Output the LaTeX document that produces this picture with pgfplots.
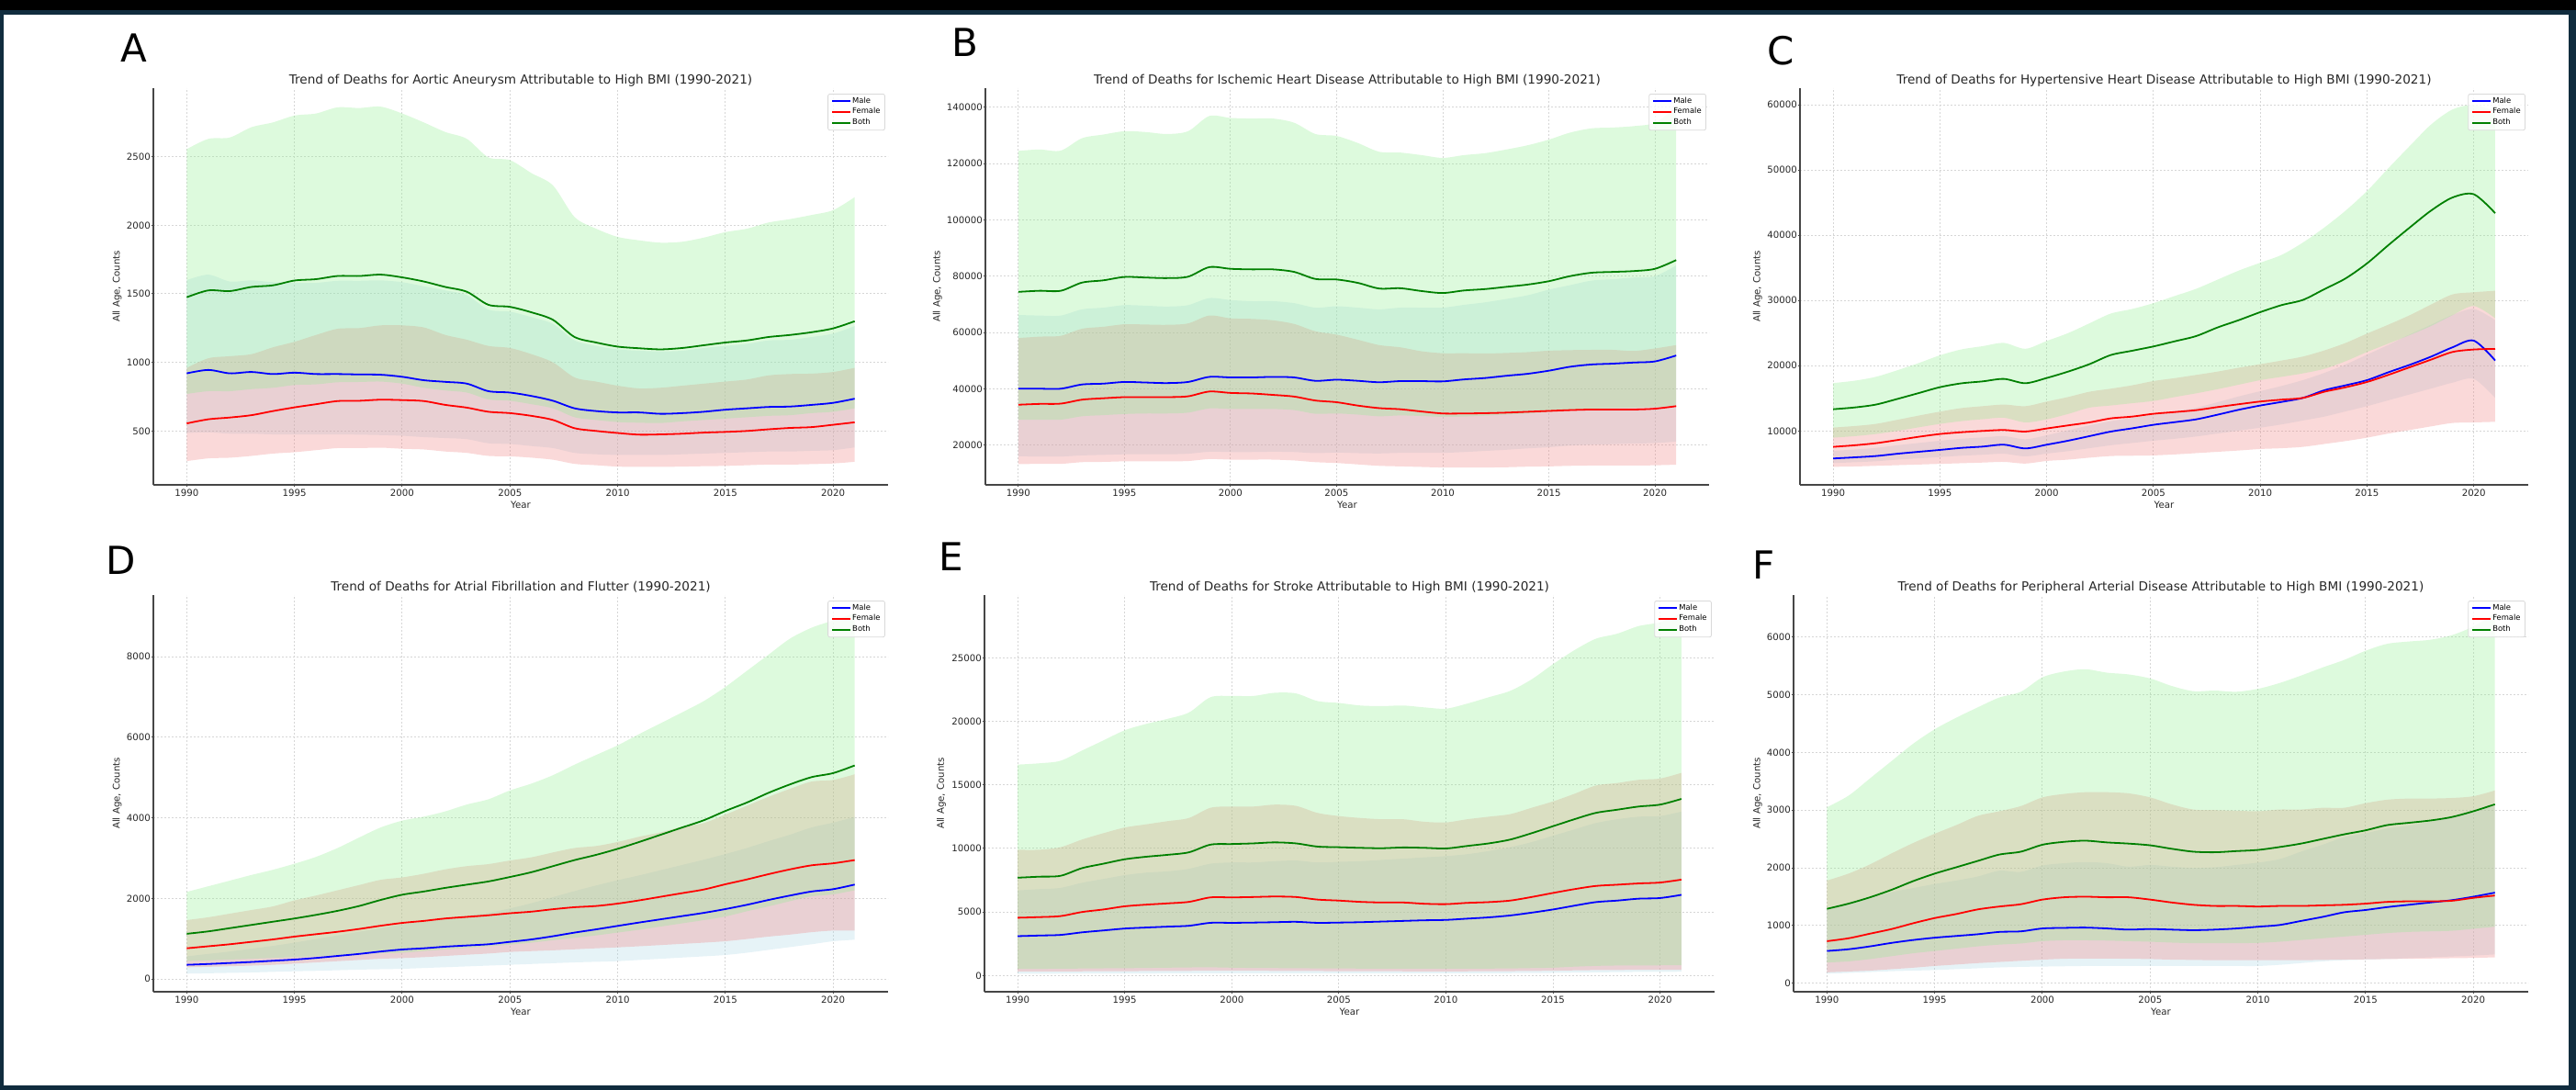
\documentclass[border=0pt]{standalone}
\usepackage{fontspec}
\setmainfont{DejaVu Sans}
\usepackage{pgfplots}
\usepackage{pgfplotstable}
\pgfplotsset{compat=1.18}
\usepgfplotslibrary{fillbetween}

\definecolor{frameteal}{RGB}{16,44,62}
\definecolor{mline}{RGB}{0,0,255}
\definecolor{fline}{RGB}{255,0,0}
\definecolor{bline}{RGB}{0,128,0}
\definecolor{mfill}{RGB}{173,216,230}
\definecolor{ffill}{RGB}{240,128,128}
\definecolor{bfill}{RGB}{144,238,144}
\definecolor{spine}{RGB}{70,70,70}
\definecolor{txt}{RGB}{38,38,38}

\newcommand\tickfont{\fontsize{5.1}{6.1}\selectfont}
\newcommand\titlefont{\fontsize{6.8}{8}\selectfont}
\newcommand\legfont{\fontsize{4.2}{5}\selectfont}

% columns: year, male low/mean/high, female low/mean/high, both low/mean/high
\pgfplotstableread{
yr ml m mu fl f fu bl b bu
1990 485 920 1600 280 555 960 770 1475 2555
1991 490 945 1640 300 585 1030 790 1525 2630
1992 480 920 1590 305 598 1045 790 1520 2640
1993 480 930 1598 318 615 1060 805 1550 2715
1994 475 915 1585 335 645 1110 815 1562 2750
1995 475 925 1580 345 672 1150 835 1597 2800
1996 475 915 1580 360 695 1200 840 1607 2815
1997 475 915 1595 375 718 1245 855 1630 2860
1998 473 912 1595 375 720 1250 857 1630 2855
1999 470 910 1598 378 728 1270 860 1640 2865
2000 465 895 1585 370 725 1270 845 1620 2815
2001 455 870 1555 365 718 1255 815 1590 2750
2002 448 858 1525 350 690 1200 795 1550 2680
2003 440 845 1490 340 670 1165 780 1515 2630
2004 410 790 1385 318 640 1120 730 1420 2495
2005 405 780 1370 315 630 1105 720 1405 2475
2006 390 755 1330 305 610 1060 695 1365 2380
2007 375 720 1280 290 580 1000 665 1310 2290
2008 340 665 1160 260 520 890 600 1185 2060
2009 330 645 1120 250 500 860 580 1145 1975
2010 325 635 1095 240 485 830 565 1115 1915
2011 325 635 1085 238 473 810 560 1103 1890
2012 325 625 1080 238 475 815 558 1095 1873
2013 330 630 1085 240 480 830 570 1105 1880
2014 335 640 1105 243 488 845 580 1125 1910
2015 340 655 1120 245 493 860 590 1145 1950
2016 345 665 1135 250 500 875 600 1160 1975
2017 350 675 1160 255 512 905 610 1185 2020
2018 350 678 1165 255 522 915 615 1200 2045
2019 355 690 1185 258 528 918 630 1220 2075
2020 360 705 1210 263 545 930 640 1248 2110
2021 380 735 1265 275 563 960 665 1300 2205
}\tA

\pgfplotstableread{
yr ml m mu fl f fu bl b bu
1990 16000 40000 66200 13200 34300 58000 29000 74400 124500
1991 15900 40000 66000 13300 34600 58500 29000 74800 125000
1992 15900 40000 66000 13300 34700 58800 29000 74800 124600
1993 16300 41500 68200 13900 36100 61300 30200 77700 129000
1994 16500 41800 68800 14000 36600 62000 30600 78500 130300
1995 16700 42400 69700 14200 37000 62900 31000 79700 131500
1996 16700 42200 69500 14200 37000 62800 31200 79500 131200
1997 16700 42000 69200 14200 37000 62700 31200 79300 130500
1998 16900 42400 69700 14300 37300 63200 31500 79800 131500
1999 17600 44200 72200 15000 39000 66000 33000 83200 136900
2000 17500 44000 71500 14800 38500 65000 32800 82600 136200
2001 17500 44000 71100 14800 38300 64800 32800 82400 136000
2002 17600 44200 71100 14800 37800 64300 32800 82400 136000
2003 17500 44000 70400 14500 37200 63000 32400 81500 134500
2004 17100 42800 68800 13900 35800 60400 31100 79000 130500
2005 17300 43200 69300 13600 35200 59200 31200 78800 129800
2006 17100 42800 68800 13100 34000 57400 30800 77600 127300
2007 17000 42300 68200 12600 33100 55500 30200 75600 124200
2008 17200 42700 68800 12400 32700 54700 30500 75700 123900
2009 17200 42700 68800 12200 31900 53300 30300 74700 123000
2010 17200 42600 68800 12000 31200 52600 30000 74000 122000
2011 17500 43300 69800 12000 31200 52600 30100 74900 123000
2012 17900 43800 70700 12000 31300 52500 30400 75400 123700
2013 18300 44600 71900 12100 31500 52700 30800 76200 125000
2014 18800 45300 73200 12300 31800 53000 31200 77000 126500
2015 19200 46400 75200 12400 32100 53500 31800 78200 128500
2016 19800 47800 76800 12600 32400 53700 32300 80000 131000
2017 20100 48600 78400 12700 32600 53800 32900 81200 132500
2018 20300 48900 78900 12700 32600 53800 33100 81500 132800
2019 20500 49300 79500 12700 32600 53400 33300 81800 133300
2020 20700 49700 80000 12800 32900 54300 33500 82600 134500
2021 21200 51800 83800 13000 33800 55500 34000 85700 140000
}\tB

\pgfplotstableread{
yr ml m mu fl f fu bl b bu
1990 5070 5775 6950 4500 7560 10520 8970 13330 17340
1991 5200 5950 7150 4550 7800 10750 9200 13600 17700
1992 5350 6150 7400 4650 8120 11080 9530 14040 18300
1993 5600 6500 7800 4750 8600 11700 10000 14900 19300
1994 5800 6800 8150 4850 9100 12350 10550 15800 20400
1995 6000 7090 8500 4950 9530 12960 11080 16710 21600
1996 6200 7400 8800 5050 9800 13500 11500 17300 22500
1997 6350 7600 9000 5150 10000 13800 11800 17600 23000
1998 6500 7890 9200 5250 10140 14040 12020 17980 23500
1999 6100 7320 8730 5000 9906 13800 11310 17320 22600
2000 6530 7890 9340 5400 10380 14500 11780 18120 23800
2001 6900 8500 10100 5600 10850 15200 12600 19100 25000
2002 7350 9200 10850 5900 11310 16010 13570 20240 26500
2003 7800 9900 11500 6150 11925 16480 13900 21640 28000
2004 8150 10400 12000 6200 12200 17000 14250 22300 28700
2005 8500 10940 12490 6250 12630 17650 14600 22960 29600
2006 8800 11350 13000 6400 12900 18100 15200 23750 30700
2007 9150 11780 13570 6600 13190 18590 15770 24550 31800
2008 9600 12490 14400 6800 13660 19100 16400 25870 33200
2009 10050 13250 15300 7000 14100 19700 17100 27000 34600
2010 10500 13900 16100 7230 14510 20240 17790 28220 35800
2011 11000 14450 16900 7350 14800 20800 18300 29300 37000
2012 11600 15070 17800 7560 15070 21410 18830 30100 38900
2013 12200 16240 18900 8000 16010 22350 19530 31740 41200
2014 13000 17000 20200 8450 16700 23500 20700 33400 43800
2015 13800 17790 21700 8970 17510 24930 22110 35700 46800
2016 14700 19000 23200 9600 18600 26300 23400 38500 50300
2017 15600 20140 24800 10140 19770 27750 24700 41200 53700
2018 16500 21400 26300 10700 20940 29390 26100 43800 57000
2019 17400 22820 27800 11220 22110 30940 27750 45800 59300
2020 17980 23850 28700 11310 22490 31270 29160 46300 60000
2021 15070 20800 27000 11400 22580 31500 27280 43400 59000
}\tC

\pgfplotstableread{
yr ml m mu fl f fu bl b bu
1990 130 350 560 289 760 1460 441 1120 2160
1991 140 370 620 300 810 1530 460 1180 2300
1992 150 395 680 315 860 1620 480 1260 2440
1993 160 420 750 330 920 1710 500 1340 2580
1994 175 450 820 350 980 1800 520 1420 2710
1995 190 480 900 380 1050 1950 540 1500 2860
1996 200 520 990 410 1110 2070 560 1590 3030
1997 215 570 1080 440 1170 2200 590 1690 3250
1998 230 620 1170 470 1240 2330 615 1810 3510
1999 240 680 1260 500 1320 2460 635 1960 3760
2000 250 730 1350 517 1390 2520 650 2090 3930
2001 270 760 1420 540 1440 2610 690 2170 4030
2002 290 800 1500 570 1500 2720 730 2260 4160
2003 310 830 1570 600 1540 2800 770 2340 4330
2004 330 860 1640 630 1580 2850 810 2420 4460
2005 350 920 1750 669 1630 2940 850 2530 4680
2006 370 980 1880 690 1670 3020 900 2650 4850
2007 390 1060 2030 710 1730 3140 960 2800 5060
2008 410 1150 2180 735 1780 3250 1020 2950 5320
2009 425 1230 2320 760 1810 3300 1080 3080 5560
2010 441 1316 2450 783 1870 3400 1150 3230 5800
2011 470 1400 2570 810 1950 3530 1220 3400 6080
2012 500 1480 2700 840 2040 3640 1300 3580 6350
2013 530 1560 2830 870 2130 3780 1380 3760 6620
2014 560 1640 2960 900 2220 3870 1460 3940 6900
2015 593 1734 3100 935 2350 4080 1550 4170 7250
2016 650 1840 3250 990 2470 4300 1680 4380 7650
2017 720 1960 3420 1050 2600 4520 1800 4620 8050
2018 790 2070 3580 1100 2720 4720 1930 4830 8450
2019 860 2170 3760 1160 2820 4900 2050 5010 8720
2020 935 2228 3880 1200 2870 4940 2100 5110 8900
2021 973 2342 4020 1200 2950 5080 2200 5300 9080
}\tD

\pgfplotstableread{
yr ml m mu fl f fu bl b bu
1990 150 3100 6700 320 4550 9900 520 7700 16600
1991 150 3150 6800 325 4600 9900 530 7780 16700
1992 155 3200 6900 330 4680 10100 540 7850 16900
1993 160 3400 7300 335 5000 10700 555 8450 17700
1994 165 3550 7600 345 5200 11200 570 8800 18500
1995 170 3700 7900 350 5450 11650 580 9150 19300
1996 170 3780 8100 355 5580 11900 600 9350 19800
1997 175 3850 8200 360 5680 12150 620 9500 20200
1998 175 3920 8400 370 5800 12400 640 9700 20700
1999 180 4150 8800 380 6150 13200 650 10300 21900
2000 180 4150 8900 380 6150 13300 620 10350 22000
2001 180 4170 8900 375 6180 13300 600 10400 22000
2002 180 4200 9000 370 6220 13450 590 10480 22250
2003 180 4230 9050 365 6180 13350 580 10400 22200
2004 175 4150 8900 355 5980 12800 565 10150 21600
2005 175 4170 8950 350 5900 12550 560 10100 21450
2006 175 4200 9000 345 5800 12400 550 10050 21250
2007 175 4250 9100 340 5750 12300 545 10020 21200
2008 175 4300 9200 335 5750 12300 540 10080 21250
2009 175 4350 9300 330 5650 12100 540 10050 21100
2010 175 4380 9400 330 5620 12050 540 10000 21000
2011 180 4480 9550 335 5720 12300 545 10200 21400
2012 185 4580 9800 340 5780 12500 550 10400 21900
2013 190 4730 10100 350 5900 12700 560 10700 22400
2014 200 4950 10500 365 6180 13200 590 11200 23300
2015 210 5200 11000 380 6500 13700 620 11750 24500
2016 230 5500 11500 410 6800 14300 700 12300 25600
2017 250 5780 12000 430 7050 14950 760 12800 26500
2018 270 5900 12300 440 7150 15150 790 13050 26900
2019 285 6050 12500 450 7250 15400 800 13300 27500
2020 295 6100 12550 455 7320 15500 805 13450 27800
2021 300 6350 12900 460 7550 15950 810 13900 28500
}\tE

\pgfplotstableread{
yr ml m mu fl f fu bl b bu
1990 166 560 1300 190 730 1780 360 1290 3050
1991 180 590 1380 205 780 1900 380 1380 3250
1992 195 640 1470 220 860 2060 420 1490 3550
1993 210 700 1580 245 940 2250 470 1620 3850
1994 220 750 1650 270 1040 2430 520 1770 4150
1995 230 790 1720 300 1130 2590 560 1900 4400
1996 245 820 1780 325 1200 2740 600 2010 4600
1997 260 850 1850 350 1280 2900 640 2120 4780
1998 275 890 1950 370 1330 2980 670 2230 4950
1999 285 900 1930 390 1370 3070 690 2280 5050
2000 290 950 2040 410 1450 3220 730 2400 5300
2001 295 960 2080 425 1490 3280 745 2450 5400
2002 300 965 2100 430 1500 3310 745 2470 5440
2003 300 950 2080 428 1490 3310 740 2440 5380
2004 300 930 2020 425 1490 3290 730 2420 5350
2005 300 940 2050 420 1450 3220 720 2390 5280
2006 300 930 2020 410 1400 3100 705 2330 5150
2007 300 920 2000 405 1360 3010 695 2280 5060
2008 300 930 2010 400 1340 3000 695 2270 5070
2009 300 950 2050 400 1340 2990 695 2290 5050
2010 300 980 2090 400 1330 2980 700 2310 5100
2011 320 1010 2150 400 1340 3010 720 2360 5200
2012 350 1080 2280 400 1340 3010 750 2420 5330
2013 380 1150 2400 405 1350 3040 780 2500 5470
2014 400 1230 2530 410 1360 3040 810 2580 5600
2015 410 1270 2600 415 1380 3120 840 2650 5760
2016 420 1320 2680 420 1410 3180 870 2740 5880
2017 435 1360 2730 425 1420 3200 890 2780 5920
2018 450 1400 2800 430 1420 3200 900 2820 5950
2019 465 1440 2880 435 1430 3210 910 2880 6030
2020 480 1500 2980 440 1480 3240 945 2980 6180
2021 500 1570 3080 450 1520 3340 980 3100 6400
}\tF

\pgfplotsset{
  panel/.style={
    scale only axis, height=216pt,
    xmin=1988.45, xmax=2022.55,
    xtick={1990,1995,2000,2005,2010,2015,2020},
    axis x line*=bottom, axis y line*=left,
    axis line style={-, draw=spine, line width=0.55pt},
    tick align=outside, major tick length=1.2pt,
    tick style={draw=spine, line width=0.5pt},
    grid=major,
    grid style={dash pattern=on 1.2pt off 0.8pt, black!16, line width=0.5pt},
    ticklabel style={font=\tickfont, text=txt},
    yticklabel style={inner xsep=0.2pt},
    xticklabel style={inner ysep=1pt},
    scaled y ticks=false,
    /pgf/number format/fixed,
    /pgf/number format/1000 sep={},
    /pgf/number format/assume math mode=true,
    xlabel={Year}, ylabel={All Age, Counts},
    label style={font=\tickfont, text=txt, inner sep=0pt},
    xlabel style={at={(axis description cs:0.5,-0.06)}, anchor=base},
    every axis title/.style={at={(0.5,1)}, anchor=base, yshift=2.2pt,
      font=\titlefont, text=txt},
    legend style={at={(0.996,0.986)}, anchor=north east, font=\legfont,
      draw=black!15, rounded corners=1pt, fill=white, fill opacity=0.8,
      text opacity=1, inner xsep=1.8pt, inner ysep=1pt, row sep=0pt,
      nodes={inner sep=0.6pt}},
    legend cell align=left,
    legend image code/.code={\draw[##1, line width=0.9pt] (0pt,0pt) -- (10pt,0pt);},
  },
  ylab/.style={ylabel style={at={(axis description cs:-#1,0.5)}, anchor=south}},
}

\newcommand\drawpanel[2]{%
  \addplot[draw=none, smooth, forget plot, name path=ml#2] table[x=yr,y=ml]{#1};
  \addplot[draw=none, smooth, forget plot, name path=mu#2] table[x=yr,y=mu]{#1};
  \addplot[mfill, fill opacity=0.3, forget plot] fill between[of=mu#2 and ml#2];
  \addplot[draw=none, smooth, forget plot, name path=fl#2] table[x=yr,y=fl]{#1};
  \addplot[draw=none, smooth, forget plot, name path=fu#2] table[x=yr,y=fu]{#1};
  \addplot[ffill, fill opacity=0.3, forget plot] fill between[of=fu#2 and fl#2];
  \addplot[draw=none, smooth, forget plot, name path=bl#2] table[x=yr,y=bl]{#1};
  \addplot[draw=none, smooth, forget plot, name path=bu#2] table[x=yr,y=bu]{#1};
  \addplot[bfill, fill opacity=0.3, forget plot] fill between[of=bu#2 and bl#2];
  \addplot[mline, line width=0.9pt, smooth] table[x=yr,y=m]{#1};
  \addlegendentry{Male}
  \addplot[fline, line width=0.9pt, smooth] table[x=yr,y=f]{#1};
  \addlegendentry{Female}
  \addplot[bline, line width=0.9pt, smooth] table[x=yr,y=b]{#1};
  \addlegendentry{Both}
}

\begin{document}
\begin{tikzpicture}
% frame strips only (the page itself is white)
\fill[frameteal] (0,0) rectangle (2pt,593.5pt);
\fill[frameteal] (1398.5pt,0) rectangle (1402.5pt,593.5pt);
\fill[frameteal] (0,0) rectangle (1402.5pt,2.5pt);
\fill[frameteal] (0,585.5pt) rectangle (1402.5pt,588pt);
\fill[black] (0,588pt) rectangle (1402.5pt,593.5pt);

\begin{axis}[panel, ylab=0.0425, width=400pt, at={(83.5pt,329.5pt)}, anchor=south west,
  ymin=107, ymax=3000, ytick={500,1000,1500,2000,2500},
  title={Trend of Deaths for Aortic Aneurysm Attributable to High BMI (1990-2021)}]
\drawpanel{\tA}{A}
\end{axis}

\begin{axis}[panel, ylab=0.0596, width=394pt, at={(536.5pt,329.5pt)}, anchor=south west,
  ymin=5840, ymax=146800,
  ytick={20000,40000,60000,80000,100000,120000,140000},
  title={Trend of Deaths for Ischemic Heart Disease Attributable to High BMI (1990-2021)}]
\drawpanel{\tB}{B}
\end{axis}

\begin{axis}[panel, ylab=0.0517, width=396.5pt, at={(980pt,329.5pt)}, anchor=south west,
  ymin=1733, ymax=62577,
  ytick={10000,20000,30000,40000,50000,60000},
  title={Trend of Deaths for Hypertensive Heart Disease Attributable to High BMI (1990-2021)}]
\drawpanel{\tC}{C}
\end{axis}

\begin{axis}[panel, ylab=0.0425, width=400pt, at={(83.5pt,53.5pt)}, anchor=south west,
  ymin=-319, ymax=9532, ytick={0,2000,4000,6000,8000},
  title={Trend of Deaths for Atrial Fibrillation and Flutter (1990-2021)}]
\drawpanel{\tD}{D}
\end{axis}

\begin{axis}[panel, ylab=0.0522, width=397.5pt, at={(536pt,53.5pt)}, anchor=south west,
  ymin=-1272, ymax=29942, ytick={0,5000,10000,15000,20000,25000},
  title={Trend of Deaths for Stroke Attributable to High BMI (1990-2021)}]
\drawpanel{\tE}{E}
\end{axis}

\begin{axis}[panel, ylab=0.0425, width=400pt, at={(976.5pt,53.5pt)}, anchor=south west,
  ymin=-146, ymax=6725, ytick={0,1000,2000,3000,4000,5000,6000},
  title={Trend of Deaths for Peripheral Arterial Disease Attributable to High BMI (1990-2021)}]
\drawpanel{\tF}{F}
\end{axis}

% panel letters
\begin{scope}[every node/.style={anchor=base west, inner sep=0pt,
    font=\fontsize{21}{21}\selectfont}]
\node at (65.5pt,559.5pt) {A};
\node at (518pt,562.5pt) {B};
\node at (962pt,558pt) {C};
\node at (57.5pt,280.5pt) {D};
\node at (511pt,282.5pt) {E};
\node at (954pt,278pt) {F};
\end{scope}

\pgfresetboundingbox
\useasboundingbox (0,0) rectangle (1402.5pt,593.5pt);
\end{tikzpicture}
\end{document}
